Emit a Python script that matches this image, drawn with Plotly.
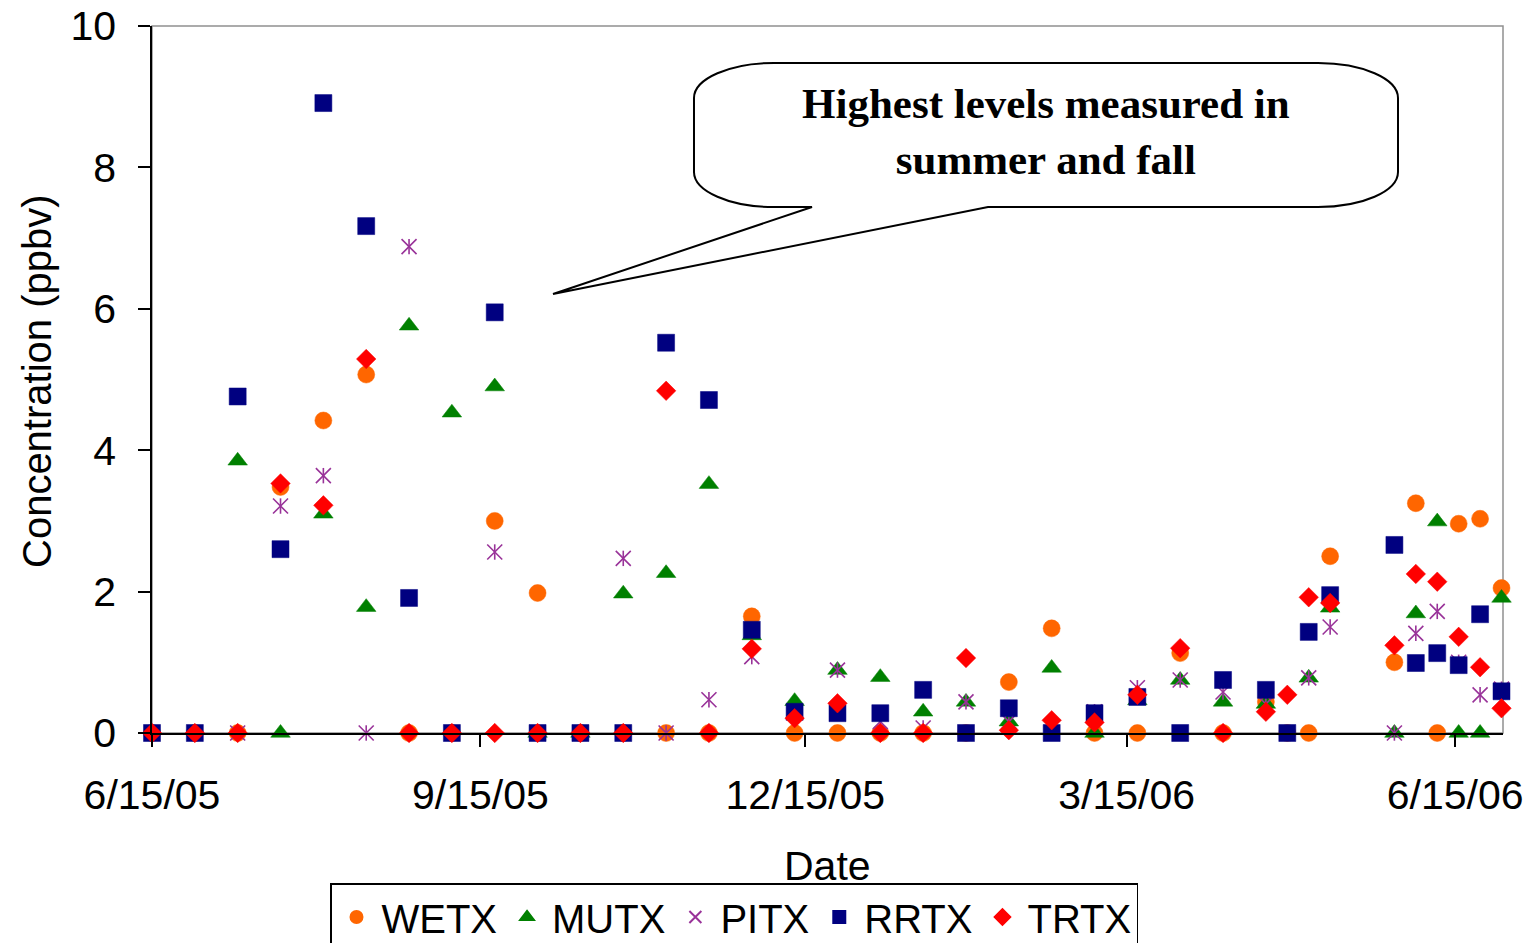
import plotly.graph_objects as go

# Sampling dates (every 12 days, then every 6 days in spring 2006)
dates = [
    "2005-06-15", "2005-06-27", "2005-07-09", "2005-07-21", "2005-08-02", "2005-08-14",
    "2005-08-26", "2005-09-07", "2005-09-19", "2005-10-01", "2005-10-13", "2005-10-25",
    "2005-11-06", "2005-11-18", "2005-11-30", "2005-12-12", "2005-12-24", "2006-01-05",
    "2006-01-17", "2006-01-29", "2006-02-10", "2006-02-22", "2006-03-06", "2006-03-18",
    "2006-03-30", "2006-04-11", "2006-04-23", "2006-04-29", "2006-05-05", "2006-05-11",
    "2006-05-29", "2006-06-04", "2006-06-10", "2006-06-16", "2006-06-22", "2006-06-28",
]

# Concentrations (ppbv) per site
wetx = [0, 0, 0, 3.48, 4.42, 5.07, 0, 0, 3.0, 1.98, 0, 0,
        0, 0, 1.65, 0, 0, 0, 0, 0, 0.72, 1.48, 0, 0,
        1.13, 0, 0.44, 0, 0, 2.5, 1.0, 3.25, 0, 2.96, 3.03, 2.05]
mutx = [None, None, 3.85, 0, 3.10, 1.78, 5.76, 4.53, 4.90, 0, 0, 1.97,
        2.26, 3.52, 1.38, 0.45, 0.89, 0.79, 0.30, 0.44, 0.16, 0.92, 0, 0.46,
        0.75, 0.44, 0.41, None, 0.78, 1.77, 0, 1.69, 2.99, 0, 0, 1.91]
pitx = [0, 0, 0, 3.21, 3.64, 0, 6.88, 0, 2.56, 0, 0, 2.47,
        0, 0.47, 1.08, 0.30, 0.89, 0.16, 0.07, 0.44, 0.16, 0, 0.30, 0.64,
        0.75, 0.58, 0.41, None, 0.78, 1.50, 0, 1.41, 1.72, 1.0, 0.54, 0.62]
rrtx = [0, 0, 4.76, 2.60, 8.91, 7.17, 1.91, 0, 5.95, 0, 0, 0,
        5.52, 4.71, 1.46, 0.30, 0.28, 0.28, 0.61, 0, 0.35, 0, 0.28, 0.51,
        0, 0.75, 0.61, 0, 1.43, 1.95, 2.66, 0.99, 1.13, 0.96, 1.68, 0.59]
trtx = [0, 0, 0, 3.53, 3.22, 5.29, 0, 0, 0, 0, 0, 0,
        4.84, 0, 1.19, 0.21, 0.42, 0, 0, 1.06, 0.04, 0.18, 0.15, 0.54,
        1.20, 0, 0.30, 0.54, 1.92, 1.84, 1.24, 2.25, 2.14, 1.36, 0.93, 0.35]

tick_dates = ["2005-06-15", "2005-09-15", "2005-12-15", "2006-03-15", "2006-06-15"]
tick_labels = ["6/15/05", "9/15/05", "12/15/05", "3/15/06", "6/15/06"]

# Plot-area geometry (pixels) used for the decorative callout
L, R, T, B = 152, 1503, 26, 733
W_PX, H_PX = 1533, 943


def paper(x, y):
    return (x - L) / (R - L), (B - y) / (B - T)


fig = go.Figure()

style = dict(
    WETX=dict(symbol="circle", color="#FF6600", size=17),
    MUTX=dict(symbol="triangle-up", color="#008000", size=17),
    RRTX=dict(symbol="square", color="#000080", size=17),
    TRTX=dict(symbol="diamond", color="#FF0000", size=15),
)

for name, vals in [("WETX", wetx), ("MUTX", mutx)]:
    s = style[name]
    fig.add_trace(go.Scatter(
        x=dates, y=vals, mode="markers", name=name, cliponaxis=False,
        marker=dict(symbol=s["symbol"], color=s["color"], size=s["size"],
                    line=dict(width=0.5, color=s["color"])),
    ))

# PITX asterisk: an x plus a vertical stroke
pit_col = "#993399"
fig.add_trace(go.Scatter(
    x=dates, y=pitx, mode="markers", name="PITX", legendgroup="PITX", cliponaxis=False,
    marker=dict(symbol="x-thin-open", size=15, color=pit_col, line=dict(width=1.6, color=pit_col)),
))
fig.add_trace(go.Scatter(
    x=dates, y=pitx, mode="markers", name="PITX", legendgroup="PITX", showlegend=False,
    cliponaxis=False,
    marker=dict(symbol="line-ns-open", size=11, color=pit_col, line=dict(width=1.6, color=pit_col)),
))

for name, vals in [("RRTX", rrtx), ("TRTX", trtx)]:
    s = style[name]
    fig.add_trace(go.Scatter(
        x=dates, y=vals, mode="markers", name=name, cliponaxis=False,
        marker=dict(symbol=s["symbol"], color=s["color"], size=s["size"],
                    line=dict(width=0.5, color=s["color"])),
    ))

font_axis = dict(family="Liberation Sans, Arial, sans-serif", size=41, color="black")

fig.update_xaxes(
    type="date", range=["2005-06-15", "2006-06-28 10:00"],
    tickvals=tick_dates, ticktext=tick_labels, tickfont=font_axis,
    ticks="outside", ticklen=12, tickwidth=1.5, tickcolor="black",
    showline=True, linecolor="black", linewidth=1.5, showgrid=False, zeroline=False,
    ticklabelstandoff=13,
)
fig.update_yaxes(
    range=[0, 10], tickvals=[0, 2, 4, 6, 8, 10], tickfont=font_axis,
    ticks="outside", ticklen=12, tickwidth=1.5, tickcolor="black",
    showline=True, linecolor="black", linewidth=1.5, showgrid=False, zeroline=False,
    ticklabelstandoff=14,
)

# Callout bubble with pointer
x0, x1, y0, y1 = 694, 1398, 63, 207
rx, ry = 80, 35
k = 0.5523
tail_l, tail_r, tip = 812, 988, (553, 294)


def pt(x, y):
    px, py = paper(x, y)
    return f"{px:.5f},{py:.5f}"


path = (
    f"M{pt(x0 + rx, y0)} L{pt(x1 - rx, y0)} "
    f"C{pt(x1 - rx + k * rx, y0)} {pt(x1, y0 + ry - k * ry)} {pt(x1, y0 + ry)} "
    f"L{pt(x1, y1 - ry)} "
    f"C{pt(x1, y1 - ry + k * ry)} {pt(x1 - rx + k * rx, y1)} {pt(x1 - rx, y1)} "
    f"L{pt(tail_r, y1)} L{pt(*tip)} L{pt(tail_l, y1)} L{pt(x0 + rx, y1)} "
    f"C{pt(x0 + rx - k * rx, y1)} {pt(x0, y1 - ry + k * ry)} {pt(x0, y1 - ry)} "
    f"L{pt(x0, y0 + ry)} "
    f"C{pt(x0, y0 + ry - k * ry)} {pt(x0 + rx - k * rx, y0)} {pt(x0 + rx, y0)} Z"
)

fig.add_shape(type="path", path=path, xref="paper", yref="paper",
              line=dict(color="black", width=2), fillcolor="white", layer="above")
# plot-area frame
fig.add_shape(type="rect", xref="paper", yref="paper", x0=0, x1=1, y0=0, y1=1,
              line=dict(color="#909090", width=1.5), layer="below")

cx, cy = paper(1046, 132)
fig.add_annotation(
    x=cx, y=cy, xref="paper", yref="paper", showarrow=False,
    text="<b>Highest levels measured in<br>summer and fall</b>",
    font=dict(family="Liberation Serif, Times New Roman, serif", size=43, color="black"),
    align="center", xanchor="center", yanchor="middle",
)

# Axis titles
tx, ty = paper(37, 381)
fig.add_annotation(x=tx, y=ty, xref="paper", yref="paper", showarrow=False,
                   text="Concentration (ppbv)", textangle=-90,
                   font=dict(family="Liberation Sans, Arial, sans-serif", size=40, color="black"),
                   xanchor="center", yanchor="middle")
dx, dy = paper(827, 866)
fig.add_annotation(x=dx, y=dy, xref="paper", yref="paper", showarrow=False,
                   text="Date",
                   font=dict(family="Liberation Sans, Arial, sans-serif", size=41, color="black"),
                   xanchor="center", yanchor="middle")

lx, ly = paper(330, 883)
fig.update_layout(
    width=W_PX, height=H_PX,
    margin=dict(l=L, r=W_PX - R, t=T, b=H_PX - B, autoexpand=False),
    paper_bgcolor="white", plot_bgcolor="white",
    showlegend=True,
    legend=dict(
        orientation="h", x=lx, y=ly, xanchor="left", yanchor="top",
        font=dict(family="Liberation Sans, Arial, sans-serif", size=40, color="black"),
        bordercolor="black", borderwidth=1.5, bgcolor="white",
        itemsizing="constant", itemwidth=40, traceorder="normal",
    ),
)

fig.write_html("out.html")
